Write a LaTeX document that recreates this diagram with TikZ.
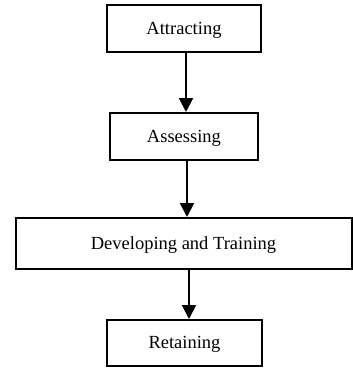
\documentclass[tikz,border=0pt]{standalone}
\usepackage{fontspec}
\setmainfont{Liberation Serif}
\usetikzlibrary{arrows.meta}
\begin{document}
\begin{tikzpicture}[x=1pt,y=-1pt,
  stepbox/.style={draw=black,line width=2pt,rectangle,inner sep=0pt,text height=11pt,text depth=0pt,font=\fontsize{18.5}{22}\selectfont},
  arr/.style={line width=2pt,-{Triangle[length=14pt,width=14pt]}}]
\useasboundingbox (0,0) rectangle (353,376);
\node[stepbox,minimum width=154pt,minimum height=47pt] (a) at (184,28.5) {Attracting};
\node[stepbox,minimum width=148pt,minimum height=47pt] (b) at (184,136.5) {Assessing};
\node[stepbox,minimum width=336pt,minimum height=51pt] (c) at (183.5,243.5) {Developing and Training};
\node[stepbox,minimum width=155pt,minimum height=46pt] (d) at (184.5,343) {Retaining};
\draw[arr] ([xshift=2pt]a.south) -- ([xshift=2pt]b.north);
\draw[arr] ([xshift=3pt]b.south) -- ([xshift=3pt]b.south |- c.north);
\draw[arr] ([xshift=5.5pt]c.south) -- ([xshift=5.5pt]c.south |- d.north);
\end{tikzpicture}
\end{document}
